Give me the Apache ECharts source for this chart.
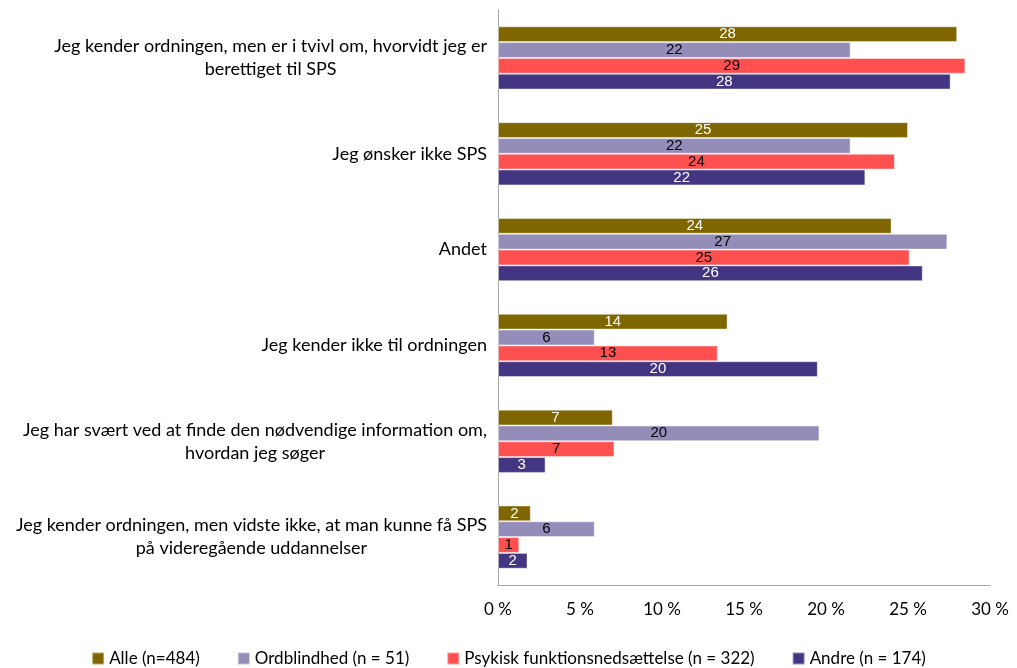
<!DOCTYPE html>
<html>
<head>
<meta charset="utf-8">
<script src="https://cdn.jsdelivr.net/npm/echarts@6/dist/echarts.min.js"></script>
<style>
  html, body { margin: 0; padding: 0; background: #fff; }
  #chart { width: 1017px; height: 668px; }
</style>
</head>
<body>
<div id="chart"></div>
<script>
// svar-kategorier (to linjer hvor de er lange)
var categories = [
  "Jeg kender ordningen, men er i tvivl om, hvorvidt jeg er\nberettiget til SPS",
  "Jeg ønsker ikke SPS",
  "Andet",
  "Jeg kender ikke til ordningen",
  "Jeg har svært ved at finde den nødvendige information om,\nhvordan jeg søger",
  "Jeg kender ordningen, men vidste ikke, at man kunne få SPS\npå videregående uddannelser"
];
var seriesNames = ["Alle (n=484)", "Ordblindhed (n = 51)", "Psykisk funktionsnedsættelse (n = 322)", "Andre (n = 174)"];
var alle = [28.0, 25.0, 24.0, 14.0, 7.0, 2.0];
var ordblindhed = [21.5, 21.5, 27.4, 5.9, 19.6, 5.9];
var psykisk = [28.5, 24.2, 25.1, 13.4, 7.1, 1.3];
var andre = [27.6, 22.4, 25.9, 19.5, 2.9, 1.8];
var xTicks = [0, 5, 10, 15, 20, 25, 30];

var colors = ["#806600", "#948cb9", "#ff5050", "#433581"];
var labelColors = ["#fff", "#000", "#000", "#fff"];
var values = [alle, ordblindhed, psykisk, andre];

var chart = echarts.init(document.getElementById("chart"));

var series = values.map(function (d, i) {
  return {
    name: seriesNames[i],
    type: "bar",
    data: d,
    barGap: "0%",
    barCategoryGap: "34%",
    itemStyle: {
      color: colors[i],
      borderColor: "rgba(255,255,255,0.45)",
      borderWidth: 1
    },
    label: {
      show: true,
      position: "inside",
      color: labelColors[i],
      fontFamily: "Liberation Sans",
      fontSize: 15,
      formatter: function (p) {
        return Math.round(p.value);
      }
    }
  };
});

var option = {
  backgroundColor: "#fff",
  animation: false,
  grid: {
    left: 498,
    right: 27,
    top: 10,
    bottom: 83
  },
  legend: {
    top: 645,
    left: "center",
    icon: "rect",
    itemWidth: 12,
    itemHeight: 12,
    itemGap: 37,
    textStyle: {
      fontFamily: "Lato",
      fontSize: 17,
      color: "#000"
    },
    data: seriesNames
  },
  xAxis: {
    type: "value",
    min: xTicks[0],
    max: xTicks[xTicks.length - 1],
    interval: 5,
    splitLine: { show: false },
    axisLine: { show: true, lineStyle: { color: "#a6a6a6" } },
    axisTick: { show: false },
    axisLabel: {
      margin: 16,
      fontFamily: "Lato",
      fontSize: 17,
      color: "#000",
      formatter: function (v) {
        return v + " %";
      }
    }
  },
  yAxis: {
    type: "category",
    inverse: true,
    data: categories,
    axisLine: { show: true, lineStyle: { color: "#a6a6a6" } },
    axisTick: { show: false },
    axisLabel: {
      margin: 11,
      fontFamily: "Lato",
      fontSize: 18,
      color: "#000",
      formatter: function (v) {
        return v.split("\n").map(function (s) { return "{c|" + s + "}"; }).join("\n");
      },
      rich: {
        c: {
          align: "center",
          fontFamily: "Lato",
          fontSize: 18,
          lineHeight: 23,
          color: "#000"
        }
      }
    }
  },
  series: series
};

chart.setOption(option);
</script>
</body>
</html>
